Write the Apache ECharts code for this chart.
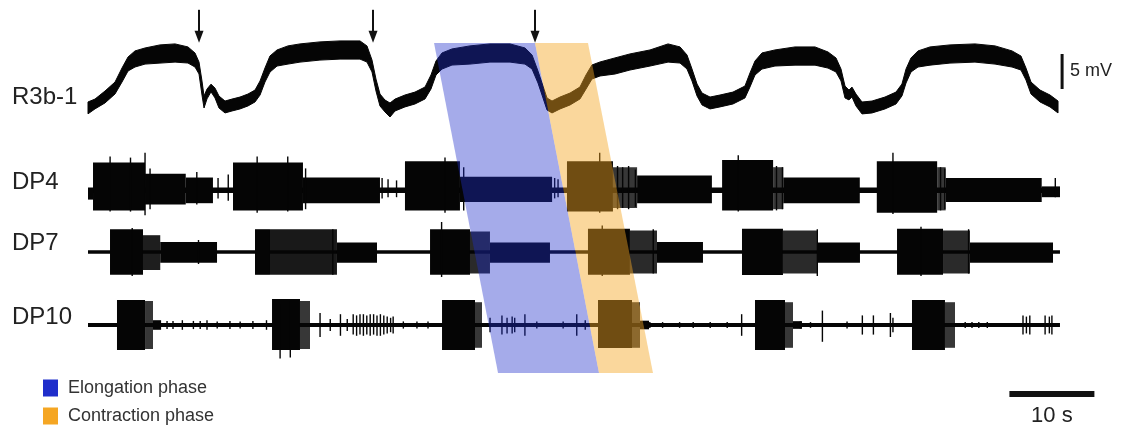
<!DOCTYPE html>
<html>
<head>
<meta charset="utf-8">
<script src="https://cdn.jsdelivr.net/npm/echarts@6/dist/echarts.min.js"></script>
<style>
  html, body { margin: 0; padding: 0; background: #fff; }
  #chart { width: 1125px; height: 429px; }
</style>
</head>
<body>
<div id="chart"></div>
<script>
// ---- Recorded traces -------------------------------------------------------
// Time is in seconds from the start of the sweep.

// R3b-1 intracellular membrane potential: [time s, mean mV (relative), peak-to-peak noise mV]
const r3bTrace = [
  [0, 0.3, 1.7], [0.82, 0.86, 1.4], [2.0, 1.86, 1.7], [3.18, 3.14, 1.7], [4.0, 5.0, 2.0],
  [4.71, 6.57, 2.0], [5.53, 7.29, 2.3], [6.71, 7.71, 2.3], [8.47, 8.0, 2.6], [10.24, 8.14, 2.6],
  [11.76, 7.86, 2.3], [12.59, 7.14, 2.0], [13.06, 6.0, 1.7], [13.41, 3.14, 2.0], [13.65, 1.14, 1.7],
  [14.0, 2.29, 1.4], [14.47, 3.14, 1.1], [14.94, 2.43, 1.4], [15.41, 1.14, 1.7], [16.12, 0.43, 1.7],
  [16.94, 0.71, 1.7], [17.88, 1.0, 1.7], [18.82, 1.43, 1.7], [19.65, 2.0, 1.7], [20.24, 3.14, 2.0],
  [20.82, 5.0, 2.0], [21.41, 6.57, 2.3], [22.24, 7.43, 2.3], [23.53, 7.86, 2.6], [24.94, 8.14, 2.6],
  [27.29, 8.43, 2.6], [29.65, 8.57, 2.6], [32.0, 8.57, 2.6], [32.82, 8.0, 2.3], [33.41, 6.29, 1.7],
  [33.88, 3.57, 1.7], [34.35, 1.43, 1.7], [34.94, 0.57, 1.7], [35.53, 0.0, 2.0], [36.12, 0.71, 1.7],
  [37.29, 1.29, 1.7], [38.47, 1.71, 1.7], [39.65, 2.43, 1.7], [40.35, 4.0, 2.0], [40.94, 6.0, 2.0],
  [41.65, 7.0, 2.3], [42.82, 7.57, 2.3], [44.94, 7.86, 2.6], [47.29, 8.14, 2.6], [49.65, 8.14, 2.6],
  [51.41, 7.71, 2.3], [52.24, 6.86, 2.0], [52.94, 4.71, 1.7], [53.53, 2.57, 1.7], [54.0, 0.86, 1.7],
  [54.59, 0.43, 1.7], [55.53, 1.0, 1.7], [56.71, 1.57, 1.7], [57.88, 2.43, 1.7], [58.59, 4.0, 2.0],
  [59.29, 5.43, 2.0], [60.24, 5.86, 2.0], [62.0, 6.29, 2.3], [63.76, 6.86, 2.3], [66.12, 7.43, 2.3],
  [68.24, 8.14, 2.6], [69.65, 7.86, 2.3], [70.47, 6.86, 2.0], [71.06, 5.0, 1.7], [71.65, 2.86, 1.7],
  [72.24, 1.57, 1.7], [73.18, 1.0, 1.7], [74.35, 1.29, 1.7], [75.88, 1.71, 1.7], [77.29, 2.57, 1.7],
  [77.88, 4.29, 2.0], [78.47, 6.0, 2.0], [79.29, 7.0, 2.3], [80.82, 7.43, 2.3], [83.18, 7.71, 2.6],
  [85.53, 7.71, 2.6], [87.06, 7.14, 2.3], [88.0, 6.43, 2.0], [88.59, 5.0, 1.7], [89.06, 2.57, 1.7],
  [89.53, 2.14, 1.4], [89.88, 2.57, 1.4], [90.35, 1.43, 1.7], [91.06, 0.29, 1.7], [92.24, 0.43, 1.7],
  [93.76, 1.0, 1.7], [95.06, 1.71, 1.7], [95.76, 2.86, 1.7], [96.24, 4.86, 2.0], [96.82, 6.43, 2.0],
  [97.65, 7.29, 2.3], [99.06, 7.71, 2.6], [101.41, 8.0, 2.6], [104.35, 8.14, 2.6], [106.71, 7.86, 2.6],
  [108.71, 7.29, 2.3], [109.76, 6.71, 2.0], [110.35, 5.14, 1.7], [110.94, 3.14, 1.7], [112.0, 2.0, 1.7],
  [113.18, 1.29, 1.7], [114.12, 0.43, 1.7]
];

// Times of the marked onsets of repolarisation (s)
const arrowTimes = [13.06, 33.53, 52.59];

// Extracellular DP nerve recordings, amplitude in normalised units.
// Firing episodes: [start s, end s, upper envelope, lower envelope, spike density 0..1]
const dp4Episodes = [
  [0, 114.35, 0.1, -0.12, 1],
  [0, 0.6, 0.05, -0.4, 1],
  [0.59, 6.71, 1.15, -0.85, 1],
  [6.71, 11.5, 0.68, -0.6, 1],
  [11.5, 14.7, 0.52, -0.55, 1],
  [17.06, 25.29, 1.15, -0.85, 1],
  [25.29, 34.35, 0.52, -0.55, 1],
  [37.29, 43.76, 1.2, -0.85, 1],
  [43.76, 54.6, 0.55, -0.5, 1],
  [56.35, 61.76, 1.2, -0.9, 1],
  [61.76, 64.6, 0.95, -0.75, 0.8],
  [64.6, 73.4, 0.6, -0.55, 1],
  [74.6, 80.6, 1.25, -0.85, 1],
  [80.6, 81.8, 0.95, -0.8, 0.8],
  [81.8, 90.8, 0.52, -0.55, 1],
  [92.8, 99.9, 1.2, -0.95, 1],
  [99.9, 100.9, 0.95, -0.85, 0.8],
  [100.9, 112.2, 0.5, -0.5, 1],
  [112.2, 114.35, 0.15, -0.3, 1]
];
// Isolated large units: [time s, peak up, peak down]
const dp4Spikes = [
  [2.6, 1.4, -0.9], [5.0, 1.35, -0.9], [6.71, 1.55, -1.05], [7.3, 0.9, -0.8], [12.8, 0.75, -0.6],
  [15.3, 0.5, -0.35], [16.5, 0.65, -0.45], [19.9, 1.4, -0.95], [23.5, 1.4, -0.9], [25.6, 0.9, -0.8],
  [34.6, 0.5, -0.35], [35.3, 0.45, -0.3], [36.3, 0.4, -0.3], [42.0, 1.35, -0.95], [44.2, 0.95, -0.85],
  [54.9, 0.5, -0.35], [55.3, 0.45, -0.3], [60.2, 1.55, -0.95], [62.3, 1.0, -0.8], [62.9, 0.95, -0.75],
  [63.6, 1.0, -0.8], [64.4, 0.85, -0.7], [76.5, 1.45, -0.9], [81.0, 1.0, -0.85], [81.7, 0.95, -0.8],
  [94.7, 1.55, -1.0], [100.3, 0.95, -0.85], [100.8, 0.9, -0.8], [113.8, 0.5, -0.3]
];

const dp7Episodes = [
  [0, 114.35, 0.07, -0.07, 1],
  [2.59, 6.47, 0.95, -0.95, 1],
  [6.47, 8.5, 0.7, -0.75, 0.9],
  [8.5, 15.18, 0.42, -0.45, 1],
  [19.65, 21.41, 0.95, -0.95, 1],
  [21.41, 29.29, 0.95, -0.95, 0.92],
  [29.29, 34.0, 0.4, -0.45, 1],
  [40.24, 44.94, 0.95, -0.95, 1],
  [44.94, 47.29, 0.85, -0.9, 0.85],
  [47.29, 54.35, 0.4, -0.45, 1],
  [58.82, 63.76, 0.97, -0.95, 1],
  [63.76, 66.94, 0.9, -0.9, 0.85],
  [66.94, 72.35, 0.42, -0.45, 1],
  [76.94, 81.76, 0.97, -0.96, 1],
  [81.76, 85.76, 0.9, -0.9, 0.85],
  [85.76, 90.82, 0.4, -0.45, 1],
  [95.18, 100.59, 0.97, -0.95, 1],
  [100.59, 103.76, 0.9, -0.9, 0.85],
  [103.76, 113.53, 0.4, -0.45, 1]
];
const dp7Spikes = [
  [5.2, 1.0, -1.0], [13.0, 0.5, -0.5], [28.8, 0.95, -0.95], [41.6, 1.25, -1.04], [60.5, 1.1, -1.0],
  [66.5, 0.95, -0.9], [85.8, 0.95, -1.0], [98.0, 1.05, -1.0], [103.6, 0.95, -0.9]
];

const dp10Episodes = [
  [0, 114.35, 0.08, -0.08, 1],
  [3.41, 6.71, 1.04, -1.04, 1], [6.71, 7.65, 1.0, -1.0, 0.8], [7.65, 8.6, 0.2, -0.2, 1],
  [21.65, 24.94, 1.08, -1.04, 1], [24.94, 26.12, 1.0, -1.0, 0.8],
  [41.65, 45.53, 1.04, -1.04, 1], [45.53, 46.35, 0.95, -0.95, 0.8],
  [60.0, 64.0, 1.04, -0.96, 1], [64.0, 64.94, 0.95, -0.95, 0.8], [64.94, 66.0, 0.18, -0.18, 1],
  [78.47, 82.0, 1.04, -1.04, 1], [82.0, 82.94, 0.95, -0.95, 0.8], [82.94, 84.0, 0.16, -0.16, 1],
  [96.94, 100.82, 1.04, -1.04, 1], [100.82, 102.0, 0.95, -0.95, 0.8]
];
const dp10Spikes = [
  [9.3, 0.17, -0.17], [10.0, 0.17, -0.17], [11.1, 0.2, -0.2], [12.4, 0.17, -0.17], [13.2, 0.17, -0.17],
  [14.0, 0.2, -0.2], [15.2, 0.15, -0.15], [16.7, 0.17, -0.17], [17.9, 0.15, -0.15], [19.4, 0.17, -0.17],
  [21.0, 0.2, -0.2], [22.6, 0.9, -1.4], [23.8, 1.0, -1.35],
  [27.3, 0.5, -0.5], [28.5, 0.25, -0.25], [29.7, 0.45, -0.45], [30.5, 0.25, -0.25],
  [31.2, 0.45, -0.4], [31.6, 0.4, -0.45], [32.0, 0.45, -0.4], [32.4, 0.45, -0.45], [32.8, 0.4, -0.4],
  [33.2, 0.45, -0.45], [33.6, 0.45, -0.4], [34.0, 0.4, -0.45], [34.4, 0.45, -0.45], [34.8, 0.4, -0.4],
  [35.2, 0.35, -0.35], [35.6, 0.3, -0.3], [35.9, 0.35, -0.35],
  [37.1, 0.15, -0.15], [38.7, 0.15, -0.15], [40.0, 0.15, -0.15],
  [47.3, 0.3, -0.3], [48.7, 0.4, -0.4], [49.3, 0.3, -0.35], [49.9, 0.35, -0.35], [50.2, 0.3, -0.3],
  [51.4, 0.45, -0.45], [52.8, 0.15, -0.15], [55.9, 0.15, -0.15], [57.5, 0.45, -0.45], [58.5, 0.2, -0.2],
  [66.1, 0.12, -0.12], [67.6, 0.12, -0.12], [69.6, 0.12, -0.12], [71.2, 0.12, -0.12], [73.2, 0.12, -0.12],
  [75.2, 0.12, -0.12], [76.9, 0.45, -0.45],
  [83.8, 0.15, -0.15], [85.0, 0.12, -0.12], [86.4, 0.6, -0.7], [89.3, 0.15, -0.15], [91.1, 0.4, -0.4],
  [92.4, 0.4, -0.4], [94.4, 0.5, -0.5], [94.7, 0.3, -0.3],
  [103.2, 0.12, -0.12], [104.0, 0.12, -0.12], [104.8, 0.12, -0.12], [105.8, 0.12, -0.12],
  [110.0, 0.4, -0.4], [110.4, 0.35, -0.35], [110.8, 0.4, -0.4], [112.6, 0.4, -0.4], [113.1, 0.35, -0.35],
  [113.4, 0.4, -0.4]
];

// Behavioural phases. Onset/offset shift from the anterior recording (R3b-1)
// to the posterior one (DP10): [start at R3b-1, end at R3b-1, start at DP10, end at DP10]
const phaseNames = ['Elongation phase', 'Contraction phase'];
const elongationPhase = [40.71, 52.59, 48.24, 60.12];
const contractionPhase = [52.59, 58.82, 60.12, 66.47];

const traceLabels = ['R3b-1', 'DP4', 'DP7', 'DP10'];

// ---- Chart -----------------------------------------------------------------
const FONT = "'Liberation Sans', Arial, Helvetica, sans-serif";
const INK = '#050505';
const chart = echarts.init(document.getElementById('chart'));

const gridBox = (top, height) => ({ left: 88, width: 1020, top: top, height: height });
const grids = [gridBox(5, 119), gridBox(154, 72), gridBox(216, 72), gridBox(289, 72), gridBox(43, 330)];
const TIME_BAR = { start: 108.4, seconds: 10 };
const VOLT_BAR = { at: 114.6, from: 3, mV: 5 };

function bandRenderer(rows) {
  return function (params, api) {
    if (params.dataIndex !== 0) return null;
    const upper = rows.map(r => api.coord([r[0], r[1] + r[2] / 2]));
    const lower = rows.slice().reverse().map(r => api.coord([r[0], r[1] - r[2] / 2]));
    return {
      type: 'polygon',
      shape: { points: upper.concat(lower) },
      style: { fill: INK, stroke: INK, lineWidth: 1 }
    };
  };
}

function renderEpisode(params, api) {
  const p0 = api.coord([api.value(0), api.value(2)]);
  const p1 = api.coord([api.value(1), api.value(3)]);
  return {
    type: 'rect',
    shape: { x: p0[0], y: p0[1], width: p1[0] - p0[0], height: p1[1] - p0[1] },
    style: { fill: INK, opacity: api.value(4) }
  };
}

function renderSpike(params, api) {
  const a = api.coord([api.value(0), api.value(1)]);
  const b = api.coord([api.value(0), api.value(2)]);
  return {
    type: 'line',
    shape: { x1: a[0], y1: a[1], x2: b[0], y2: b[1] },
    style: { stroke: INK, lineWidth: 1.4 }
  };
}

function renderArrow(params, api) {
  const tip = api.coord([api.value(0), 9.6]);
  const x = tip[0], y = tip[1];
  return {
    type: 'group',
    children: [
      { type: 'line', shape: { x1: x, y1: y - 33, x2: x, y2: y - 10 }, style: { stroke: '#111', lineWidth: 2 } },
      { type: 'polygon', shape: { points: [[x - 4.5, y - 12], [x + 4.5, y - 12], [x, y]] }, style: { fill: '#111' } }
    ]
  };
}

function renderPhase(params, api) {
  const a = api.coord([api.value(0), 1]);
  const b = api.coord([api.value(1), 1]);
  const c = api.coord([api.value(3), 0]);
  const d = api.coord([api.value(2), 0]);
  return {
    type: 'polygon',
    shape: { points: [a, b, c, d] },
    style: { fill: api.visual('color'), opacity: params.seriesName === phaseNames[0] ? 0.4 : 0.45 }
  };
}

function renderVoltBar(params, api) {
  const lo = api.coord([api.value(0), api.value(1)]);
  const hi = api.coord([api.value(0), api.value(1) + api.value(2)]);
  return {
    type: 'group',
    children: [
      { type: 'rect', shape: { x: lo[0] - 1.5, y: hi[1], width: 3, height: lo[1] - hi[1] }, style: { fill: '#111' } },
      { type: 'text', x: lo[0] + 8, y: (lo[1] + hi[1]) / 2,
        style: { text: api.value(2) + ' mV', fontSize: 18, fontFamily: FONT, fill: '#222', align: 'left', verticalAlign: 'middle' } }
    ]
  };
}

function renderTimeBar(params, api) {
  const a = api.coord([api.value(0), -1.5]);
  const b = api.coord([api.value(0) + api.value(1), -1.5]);
  const y = a[1] + 33;
  return {
    type: 'group',
    children: [
      { type: 'rect', shape: { x: a[0], y: y - 3, width: b[0] - a[0], height: 6 }, style: { fill: '#111' } },
      { type: 'text', x: (a[0] + b[0]) / 2, y: y + 22,
        style: { text: api.value(1) + ' s', fontSize: 22, fontFamily: FONT, fill: '#222', align: 'center', verticalAlign: 'middle' } }
    ]
  };
}

const dpSets = [
  { episodes: dp4Episodes, spikes: dp4Spikes },
  { episodes: dp7Episodes, spikes: dp7Spikes },
  { episodes: dp10Episodes, spikes: dp10Spikes }
];

const series = [
  {
    type: 'custom', name: 'R3b-1', xAxisIndex: 0, yAxisIndex: 0, z: 2, silent: true,
    renderItem: bandRenderer(r3bTrace), data: r3bTrace, encode: { x: 0, y: 1 }
  },
  {
    type: 'custom', name: 'onsets', xAxisIndex: 0, yAxisIndex: 0, z: 3, silent: true,
    renderItem: renderArrow, data: arrowTimes.map(t => [t]), encode: { x: 0 }
  },
  {
    type: 'custom', name: 'mV scale', xAxisIndex: 0, yAxisIndex: 0, z: 3, silent: true,
    renderItem: renderVoltBar, data: [[VOLT_BAR.at, VOLT_BAR.from, VOLT_BAR.mV]], encode: { x: 0 }
  },
  {
    type: 'custom', name: 'time scale', xAxisIndex: 3, yAxisIndex: 3, z: 3, silent: true,
    renderItem: renderTimeBar, data: [[TIME_BAR.start, TIME_BAR.seconds]], encode: { x: 0 }
  }
];

dpSets.forEach((set, i) => {
  series.push({
    type: 'custom', name: traceLabels[i + 1] + ' bursts', xAxisIndex: i + 1, yAxisIndex: i + 1, z: 2, silent: true,
    renderItem: renderEpisode, data: set.episodes, encode: { x: [0, 1], y: [2, 3] }
  });
  series.push({
    type: 'custom', name: traceLabels[i + 1] + ' units', xAxisIndex: i + 1, yAxisIndex: i + 1, z: 2, silent: true,
    renderItem: renderSpike, data: set.spikes, encode: { x: 0, y: [1, 2] }
  });
});

series.push({
  type: 'custom', name: phaseNames[0], xAxisIndex: 4, yAxisIndex: 4, z: 10, silent: true,
  itemStyle: { color: '#1f2ecb' }, renderItem: renderPhase, data: [elongationPhase], encode: { x: [0, 1, 2, 3] }
});
series.push({
  type: 'custom', name: phaseNames[1], xAxisIndex: 4, yAxisIndex: 4, z: 10, silent: true,
  itemStyle: { color: '#f5a623' }, renderItem: renderPhase, data: [contractionPhase], encode: { x: [0, 1, 2, 3] }
});

const labelCenters = [97, 182, 243, 317];

// one legend block per phase, stacked vertically
const legends = phaseNames.map((name, i) => ({
  data: [name],
  orient: 'vertical',
  left: 43, top: 379 + i * 28,
  padding: 0,
  itemWidth: 15, itemHeight: 17,
  icon: 'rect',
  selectedMode: false,
  textStyle: { fontSize: 18, color: '#333', fontFamily: FONT, padding: [0, 0, 0, 5] }
}));

chart.setOption({
  animation: false,
  backgroundColor: '#fff',
  grid: grids,
  xAxis: grids.map((g, i) => ({ gridIndex: i, type: 'value', min: 0, max: 120, show: false })),
  yAxis: [
    { gridIndex: 0, type: 'value', min: -2, max: 15, show: false },
    { gridIndex: 1, type: 'value', min: -1.5, max: 1.5, show: false },
    { gridIndex: 2, type: 'value', min: -1.5, max: 1.5, show: false },
    { gridIndex: 3, type: 'value', min: -1.5, max: 1.5, show: false },
    { gridIndex: 4, type: 'value', min: 0, max: 1, show: false }
  ],
  legend: legends,
  graphic: traceLabels.map((label, i) => ({
    type: 'text', x: 12, y: labelCenters[i], silent: true,
    style: { text: label, fontSize: 24, fontFamily: FONT, fill: '#222', align: 'left', verticalAlign: 'middle' }
  })),
  series: series
});
</script>
</body>
</html>
